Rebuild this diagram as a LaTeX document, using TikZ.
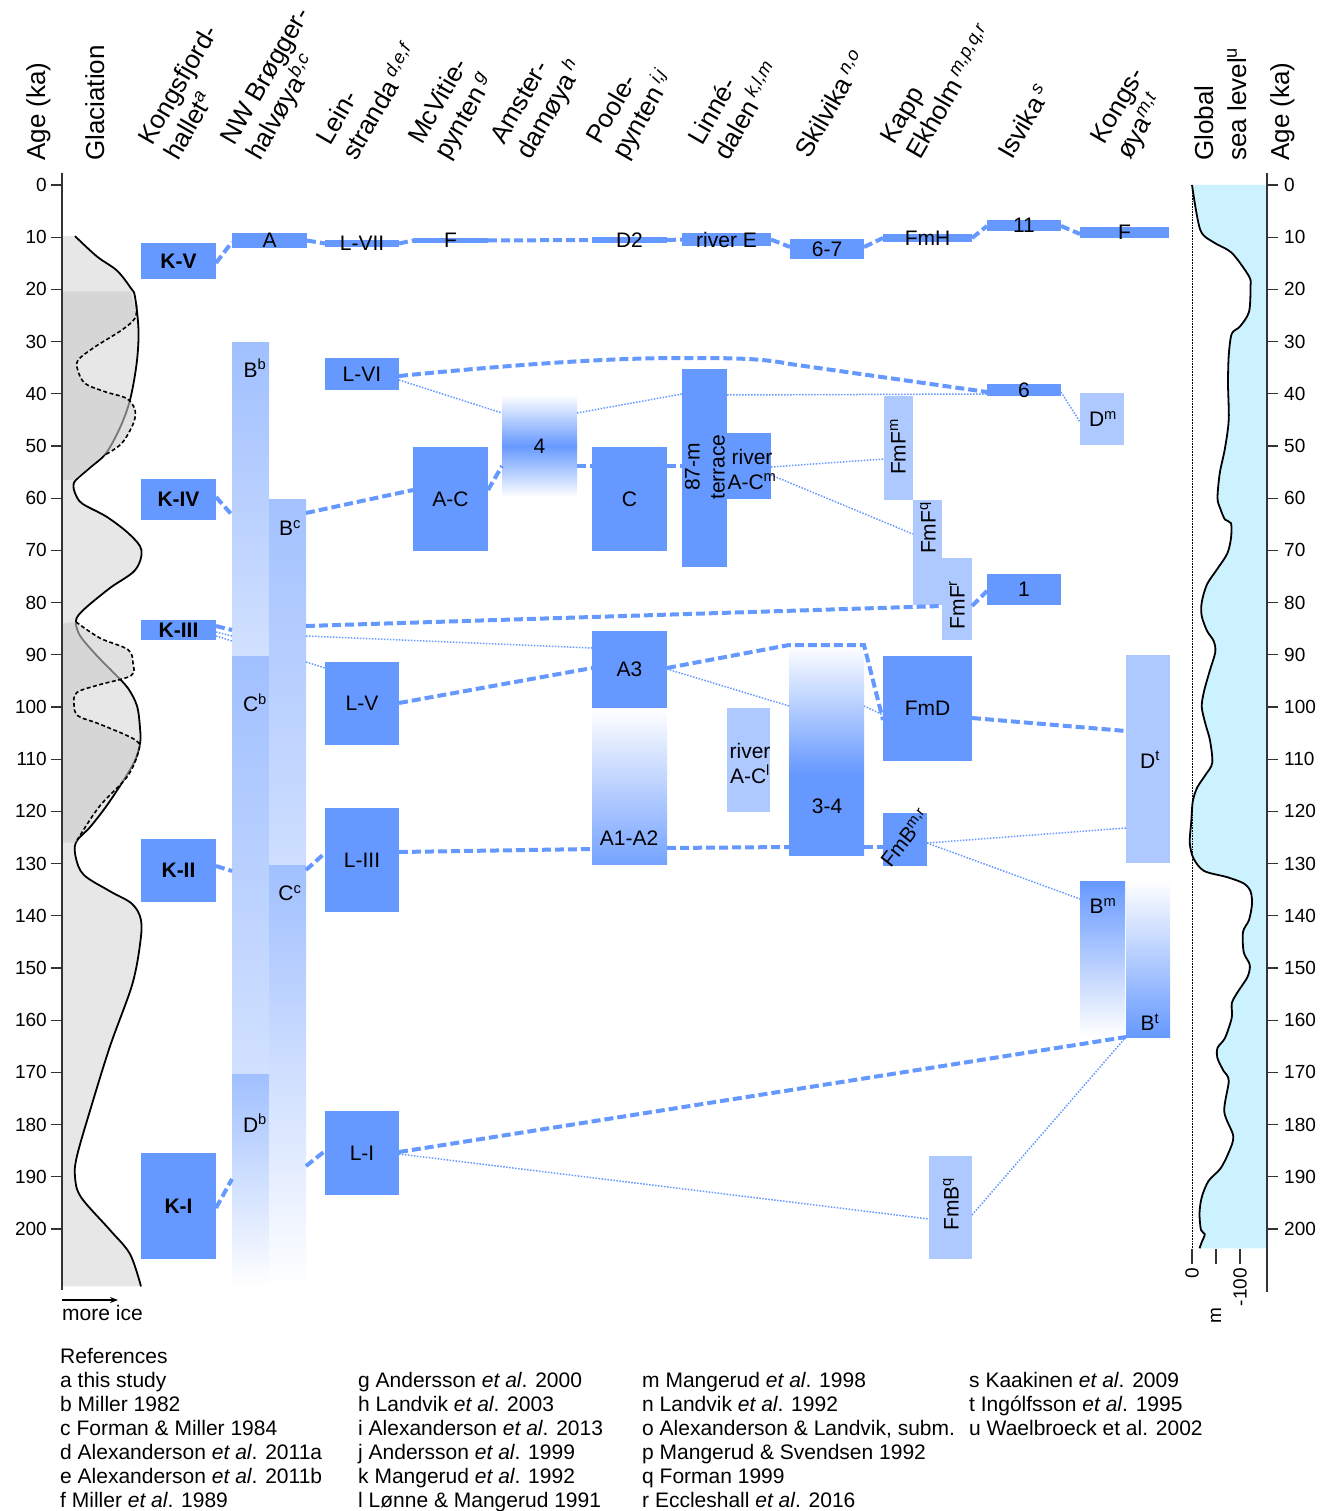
\documentclass[tikz,border=0pt]{standalone}
\usepackage{fontspec}
\setmainfont{Liberation Sans}
\usetikzlibrary{arrows.meta}
\definecolor{mb}{RGB}{102,153,255}
\definecolor{seac}{RGB}{204,242,255}
\definecolor{lg}{RGB}{231,231,231}
\definecolor{dg}{RGB}{203,203,203}
\pgfdeclareverticalshading{skshade}{100bp}{color(0bp)=(mb); color(25bp)=(mb); color(44.5bp)=(mb); color(75bp)=(white); color(100bp)=(white)}
\pgfdeclareverticalshading{fourshade}{100bp}{color(0bp)=(white); color(25bp)=(white); color(50bp)=(mb); color(75bp)=(white); color(100bp)=(white)}
\newcommand{\hdrfont}{\fontsize{26}{30}\selectfont}
\newcommand{\lblfont}{\fontsize{21}{25}\selectfont}
\newcommand{\tkfont}{\fontsize{19}{22}\selectfont}
\newcommand{\bx}[6]{\node[bxb,#6,minimum width={#3-#1},minimum height={#4-#2}] (#5) at ({(#1+#3)/2},{(#2+#4)/2}) {};}
\newcommand{\sps}[1]{\textsuperscript{\itshape #1}}
\tikzset{
  bxb/.style={inner sep=0pt, outer sep=0pt, draw=none},
  dk/.style={fill=mb},
  lt/.style={fill=mb!53},
  lbl/.style={inner sep=1pt, font=\lblfont},
  kl/.style={inner sep=1pt, font=\lblfont\bfseries},
  dsh/.style={draw=mb, line width=4pt, dash pattern=on 9pt off 4pt},
  dtt/.style={draw=mb, line width=1.5pt, dash pattern=on 1.5pt off 1.5pt},
  hdr/.style={rotate=60, anchor=base west, inner sep=0pt, font=\hdrfont},
  vhdr/.style={rotate=90, anchor=base west, inner sep=0pt, font=\hdrfont},
  axisl/.style={draw=black!80, line width=1.6pt},
  tkl/.style={draw=black!80, line width=1.3pt},
  tk/.style={font=\tkfont, inner sep=1pt},
  gcurve/.style={draw=black, line width=1.8pt},
  gdash/.style={draw=black, line width=1.6pt, dash pattern=on 4pt off 2.5pt},
  reft/.style={anchor=base west, inner sep=0pt, font=\lblfont}
}
\begin{document}
\begin{tikzpicture}[x=1pt,y=-1pt]
\useasboundingbox (0,0) rectangle (1332,1511);

% ---------- glaciation panel ----------
\begin{scope}[shift={(0,185)},yscale=5.22]
\fill[lg] (62,9.8) -- plot[smooth,tension=0.55] coordinates {(75,9.8) (97,13.7) (117,16.4) (131,19.8) (135,21.4) (138.5,27.8) (136.7,34.1) (130,41.2) (120,46.5) (106,51.4) (91,54) (76,56.5) (73.5,57.6) (75,59) (82,61) (107,63.6) (130,67) (141.5,70) (135,73.8) (110,77.2) (84,81.3) (76,83.4) (79,86) (89,88.5) (101,91) (114,93.5) (128,96.4) (137,99.8) (140,104) (140,107) (133,111) (110,118) (91,122.8) (76,125.9) (76,129) (84,132.2) (110,135.3) (132,137.7) (141,140.8) (140,145.5) (132,153.3) (110,165) (91,176.7) (77,186) (75,190) (81,193.9) (110,200.2) (130,204.8) (141,211)} -- (62,211) -- cycle;
\draw[gcurve] plot[smooth,tension=0.55] coordinates {(75,9.8) (97,13.7) (117,16.4) (131,19.8) (135,21.4) (138.5,27.8) (136.7,34.1) (130,41.2) (120,46.5) (106,51.4) (91,54) (76,56.5) (73.5,57.6) (75,59) (82,61) (107,63.6) (130,67) (141.5,70) (135,73.8) (110,77.2) (84,81.3) (76,83.4) (79,86) (89,88.5) (101,91) (114,93.5) (128,96.4) (137,99.8) (140,104) (140,107) (133,111) (110,118) (91,122.8) (76,125.9) (76,129) (84,132.2) (110,135.3) (132,137.7) (141,140.8) (140,145.5) (132,153.3) (110,165) (91,176.7) (77,186) (75,190) (81,193.9) (110,200.2) (130,204.8) (141,211)};
\fill[dg, fill opacity=0.59] (62,20.4) -- (130.5,20.4) -- plot[smooth,tension=0.55] coordinates {(133.5,22.5) (135,25.5) (121.7,27.8) (95,31) (78.3,33.5) (77.7,35.4) (85,38) (105,39.6) (126.7,40.9) (135,43.1) (133.3,45.7) (121.7,49.5) (104,51.7) (89.5,54) (74.5,56.5)} -- (62,56.5) -- cycle;
\fill[dg, fill opacity=0.59] (62,84) -- plot[smooth,tension=0.55] coordinates {(76,83.7) (100,86.8) (128,89) (133,91.6) (131,94) (100,95.7) (77,97.2) (74,99.5) (78,101.7) (100,103.3) (136,106.4) (138,108.8) (127,113.4) (100,118.9) (81,124.3) (76,125.9)} -- (62,126) -- cycle;
\draw[gdash] plot[smooth,tension=0.55] coordinates {(136.5,23) (135,25.5) (121.7,27.8) (95,31) (78.3,33.5) (77.7,35.4) (85,38) (105,39.6) (126.7,40.9) (135,43.1) (133.3,45.7) (121.7,49.5) (105,51.7)};
\draw[gdash] plot[smooth,tension=0.55] coordinates {(76,83.7) (100,86.8) (128,89) (133,91.6) (131,94) (100,95.7) (77,97.2) (74,99.5) (78,101.7) (100,103.3) (136,106.4) (138,108.8) (127,113.4) (100,118.9) (81,124.3) (76,125.9)};
\end{scope}
\draw[axisl] (62,173) -- (62,1290);
\foreach \a in {0,10,...,200}{
  \draw[tkl] (51,{185+5.22*\a}) -- (62,{185+5.22*\a});
  \node[tk,anchor=east] (tl\a) at (48,{185+5.22*\a}) {\a};
}
\draw[line width=1.2pt,-{Stealth[length=8pt,width=6pt]}] (62,1300) -- (118,1300);
\node[reft] (moreice) at (62,1320) {more ice};

% ---------- sea level panel ----------
\begin{scope}[shift={(1192,185)},xscale=75,yscale=5.22]
\fill[seac] plot[smooth,tension=0.5] coordinates {(0,0) (0.11,8.6) (0.29,11) (0.53,13) (0.76,17.5) (0.78,19.5) (0.76,24.3) (0.64,27.1) (0.53,28.5) (0.49,32.6) (0.48,38.1) (0.49,44.9) (0.44,50.4) (0.37,55.2) (0.34,60) (0.38,62.1) (0.44,64.1) (0.52,64.8) (0.52,67.6) (0.47,70.6) (0.33,73.7) (0.2,76.5) (0.13,79.9) (0.13,82.6) (0.2,85.4) (0.29,87.4) (0.31,89.5) (0.24,92.9) (0.16,97) (0.13,100) (0.18,103.3) (0.24,106.4) (0.27,110.7) (0.18,113) (0.07,115.4) (0.01,118.1) (-0.01,122) (-0.03,126) (0.02,129) (0.16,131.4) (0.47,132.6) (0.69,133.8) (0.78,135.3) (0.8,137.7) (0.76,140.8) (0.68,143.1) (0.69,147) (0.77,149.4) (0.74,151.7) (0.6,154.8) (0.53,156.8) (0.53,159.5) (0.44,163.4) (0.34,165.3) (0.34,167.3) (0.42,169.7) (0.49,171.6) (0.43,177.5) (0.55,182.2) (0.49,185.3) (0.38,188.4) (0.22,190.8) (0.13,193.9) (0.1,197) (0.12,200.2) (0.17,201) (0.13,202.5) (0.1,203.7)} -- (1,203.7) -- (1,0) -- cycle;
\draw[line width=1.8pt] plot[smooth,tension=0.5] coordinates {(0,0) (0.11,8.6) (0.29,11) (0.53,13) (0.76,17.5) (0.78,19.5) (0.76,24.3) (0.64,27.1) (0.53,28.5) (0.49,32.6) (0.48,38.1) (0.49,44.9) (0.44,50.4) (0.37,55.2) (0.34,60) (0.38,62.1) (0.44,64.1) (0.52,64.8) (0.52,67.6) (0.47,70.6) (0.33,73.7) (0.2,76.5) (0.13,79.9) (0.13,82.6) (0.2,85.4) (0.29,87.4) (0.31,89.5) (0.24,92.9) (0.16,97) (0.13,100) (0.18,103.3) (0.24,106.4) (0.27,110.7) (0.18,113) (0.07,115.4) (0.01,118.1) (-0.01,122) (-0.03,126) (0.02,129) (0.16,131.4) (0.47,132.6) (0.69,133.8) (0.78,135.3) (0.8,137.7) (0.76,140.8) (0.68,143.1) (0.69,147) (0.77,149.4) (0.74,151.7) (0.6,154.8) (0.53,156.8) (0.53,159.5) (0.44,163.4) (0.34,165.3) (0.34,167.3) (0.42,169.7) (0.49,171.6) (0.43,177.5) (0.55,182.2) (0.49,185.3) (0.38,188.4) (0.22,190.8) (0.13,193.9) (0.1,197) (0.12,200.2) (0.17,201) (0.13,202.5) (0.1,203.7)};
\end{scope}
\draw[line width=0.8pt, dash pattern=on 0.8pt off 0.8pt] (1192,185) -- (1192,1249);
\draw[axisl] (1267,173) -- (1267,1292);
\foreach \a in {0,10,...,200}{
  \draw[tkl] (1267,{185+5.22*\a}) -- (1278,{185+5.22*\a});
  \node[tk,anchor=west] (tr\a) at (1283,{185+5.22*\a}) {\a};
}
\foreach \xx in {1192,1216,1240}{ \draw[tkl] (\xx,1249) -- (\xx,1264); }
\node[tk,rotate=90,anchor=east] (sl0) at (1192,1267) {0};
\node[tk,rotate=90,anchor=east] (sl100) at (1240,1267) {-100};
\node[tk,rotate=90] (slm) at (1216,1316) {m};

% ---------- headers ----------
\node[vhdr] (hAgeL) at (45,161) {Age (ka)};
\node[vhdr] (hGlac) at (104,161) {Glaciation};
\node[hdr] (h1a) at (152,147) {Kongsfjord-};
\node[hdr] (h1b) at (178,162) {hallet\sps{a}};
\node[hdr] (h2a) at (234,147) {NW Brøgger-};
\node[hdr] (h2b) at (260,162) {halvøya\sps{b,c}};
\node[hdr] (h3a) at (330,147) {Lein-};
\node[hdr] (h3b) at (356,162) {stranda\,\sps{d,e,f}};
\node[hdr] (h4a) at (422,146) {McVitie-};
\node[hdr] (h4b) at (448,161) {pynten\,\sps{g}};
\node[hdr] (h5a) at (504,146) {Amster-};
\node[hdr] (h5b) at (530,161) {damøya\,\sps{h}};
\node[hdr] (h6a) at (600,146) {Poole-};
\node[hdr] (h6b) at (626,161) {pynten\,\sps{i,j}};
\node[hdr] (h7a) at (702,147) {Linné-};
\node[hdr] (h7b) at (728,162) {dalen\,\sps{k,l,m}};
\node[hdr] (h8) at (809,160) {Skilvika\,\sps{n,o}};
\node[hdr] (h9a) at (894,146) {Kapp};
\node[hdr] (h9b) at (920,161) {Ekholm\,\sps{m,p,q,r}};
\node[hdr] (h10) at (1012,161) {Isvika\,\sps{s}};
\node[hdr] (h11a) at (1104,146) {Kongs-};
\node[hdr] (h11b) at (1130,161) {øya\sps{m,t}};
\node[vhdr] (hGlob) at (1213,161) {Global};
\node[vhdr] (hSea) at (1246,161) {sea level\textsuperscript{u}};
\node[vhdr] (hAgeR) at (1289,161) {Age (ka)};

% ---------- boxes ----------
\bx{141}{243}{216}{279}{KV}{dk}
\bx{141}{479}{216}{520}{KIV}{dk}
\bx{141}{620}{216}{640}{KIII}{dk}
\bx{141}{839}{216}{902}{KII}{dk}
\bx{141}{1153}{216}{1259}{KI}{dk}
\bx{232}{342}{269}{656}{Bb}{top color=mb!62, bottom color=mb!30}
\bx{232}{656}{269}{1074}{Cb}{top color=mb!62, bottom color=mb!30}
\bx{232}{1074}{269}{1288}{Db}{top color=mb!62, bottom color=white}
\bx{269}{499}{306}{865}{Bc}{top color=mb!60, bottom color=mb!32}
\bx{269}{865}{306}{1288}{Cc}{top color=mb!62, bottom color=white}
\bx{232}{233}{307}{248}{A}{dk}
\bx{325}{240}{399}{247}{LVII}{dk}
\bx{325}{358}{399}{390}{LVI}{dk}
\bx{325}{662}{399}{745}{LV}{dk}
\bx{325}{808}{399}{912}{LIII}{dk}
\bx{325}{1111}{399}{1195}{LI}{dk}
\bx{413}{238}{488}{243}{McF}{dk}
\bx{413}{447}{488}{551}{AC}{dk}
\bx{502}{395}{577}{497}{A4}{shade, shading=fourshade}
\bx{592}{237}{667}{243}{D2}{dk}
\bx{592}{447}{667}{551}{PC}{dk}
\bx{592}{631}{667}{708}{A3}{dk}
\bx{592}{708}{667}{864}{A12}{top color=white, bottom color=mb!90}
\bx{682}{233}{771}{246}{rivE}{dk}
\bx{682}{369}{727}{567}{T87}{dk}
\bx{727}{433}{771}{499}{rACm}{dk}
\bx{727}{708}{770}{812}{rACl}{lt}
\bx{790}{239}{864}{259}{S67}{dk}
\bx{789}{645}{864}{855}{S34}{shade, shading=skshade}
\bx{883}{234}{972}{242}{FmH}{dk}
\bx{884}{396}{913}{500}{FmFm}{lt}
\bx{913}{500}{942}{605}{FmFq}{lt}
\bx{942}{558}{972}{640}{FmFr}{lt}
\bx{883}{656}{972}{761}{FmD}{dk}
\bx{883}{813}{927}{866}{FmBmr}{dk}
\bx{929}{1156}{972}{1259}{FmBq}{lt}
\bx{987}{220}{1061}{231}{I11}{dk}
\bx{987}{384}{1061}{396}{I6}{dk}
\bx{987}{574}{1061}{605}{I1}{dk}
\bx{1080}{227}{1169}{238}{KF}{dk}
\bx{1080}{393}{1124}{445}{Dm}{lt}
\bx{1126}{655}{1170}{863}{Dt}{lt}
\bx{1080}{881}{1125}{1036}{Bm}{top color=mb, bottom color=white}
\bx{1126}{881}{1170}{1037}{Bt}{top color=white, bottom color=mb}

% ---------- connectors: dashed ----------
\draw[dsh] (KV.east |- 0,263) -- (A.west |- 0,242);
\draw[dsh] (A.east) -- (LVII.west);
\draw[dsh] (LVII.east) -- (McF.west);
\draw[dsh] (McF.east) -- (D2.west);
\draw[dsh] (D2.east) -- (rivE.west);
\draw[dsh] (rivE.east) -- (S67.west |- 0,247);
\draw[dsh] (S67.east |- 0,247) -- (FmH.west);
\draw[dsh] (FmH.east) -- (I11.west |- 0,226);
\draw[dsh] (I11.east |- 0,226) -- (KF.west |- 0,234);
\draw[dsh] (KIV.east |- 0,497) -- (Bb.west |- 0,515);
\draw[dsh] (Bc.east |- 0,513) -- (AC.west |- 0,490);
\draw[dsh] (AC.east |- 0,490) -- (A4.west |- 0,466);
\draw[dsh] (A4.east |- 0,466) -- (PC.west |- 0,466);
\draw[dsh] (PC.east |- 0,466) -- (T87.west |- 0,466);
\draw[dsh] (LVI.east |- 0,376) .. controls (500,366) and (600,358) .. (680,358) .. controls (730,358) and (760,358) .. (790,364) -- (I6.west |- 0,392);
\draw[dsh] (KIII.east |- 0,626) -- (Bb.west |- 0,630);
\draw[dsh] (Bc.east |- 0,626) -- (FmFr.west |- 0,606);
\draw[dsh] (FmFr.east |- 0,606) -- (I1.west |- 0,591);
\draw[dsh] (LV.east |- 0,703) -- (A3.west |- 0,668);
\draw[dsh] (A3.east |- 0,668) -- (S34.north west) -- (S34.north east) -- (FmD.west |- 0,720);
\draw[dsh] (FmD.east |- 0,718) -- (Dt.west |- 0,731);
\draw[dsh] (KII.east |- 0,866) -- (Cb.west |- 0,871);
\draw[dsh] (Cc.east |- 0,870) -- (LIII.west |- 0,853);
\draw[dsh] (LIII.east |- 0,852) -- (A12.west |- 0,849);
\draw[dsh] (A12.east |- 0,848) -- (S34.west |- 0,847);
\draw[dsh] (S34.east |- 0,847) -- (FmBmr.west |- 0,847);
\draw[dsh] (KI.east |- 0,1208) -- (Db.west |- 0,1179);
\draw[dsh] (Cc.east |- 0,1166) -- (LI.west |- 0,1151);
\draw[dsh] (LI.east |- 0,1152) -- (Bt.south west);

% ---------- connectors: dotted ----------
\draw[dtt] (LVI.east |- 0,380) -- (A4.west |- 0,413);
\draw[dtt] (A4.east |- 0,413) -- (T87.west |- 0,394);
\draw[dtt] (T87.east |- 0,395) -- (I6.west |- 0,394);
\draw[dtt] (rACm.east |- 0,467) -- (FmFm.west |- 0,459);
\draw[dtt] (rACm.east |- 0,475) -- (FmFq.west |- 0,534);
\draw[dtt] (I6.east |- 0,392) -- (Dm.west |- 0,422);
\draw[dtt] (KIII.east |- 0,632) -- (Bb.west |- 0,636);
\draw[dtt] (KIII.east |- 0,636) -- (Bb.west |- 0,641);
\draw[dtt] (Bc.east |- 0,636) -- (A3.west |- 0,648);
\draw[dtt] (Bc.east |- 0,662) -- (LV.west |- 0,668);
\draw[dtt] (A3.east |- 0,669) -- (S34.west |- 0,706);
\draw[dtt] (S34.east |- 0,706) -- (FmD.west |- 0,715);
\draw[dtt] (FmBmr.east |- 0,843) -- (Dt.west |- 0,828);
\draw[dtt] (FmBmr.east |- 0,843) -- (Bm.west |- 0,899);
\draw[dtt] (LI.east |- 0,1154) -- (FmBq.west |- 0,1219);
\draw[dtt] (FmBq.east |- 0,1215) -- (Bt.south west);

% ---------- labels ----------
\node[kl] (KVl) at (KV) {K-V};
\node[kl] (KIVl) at (KIV) {K-IV};
\node[kl] (KIIIl) at (KIII) {K-III};
\node[kl] (KIIl) at (KII) {K-II};
\node[kl] (KIl) at (KI) {K-I};
\node[lbl] (Bbl) at (255,368) {B\textsuperscript{b}};
\node[lbl] (Cbl) at (255,703) {C\textsuperscript{b}};
\node[lbl] (Dbl) at (255,1123) {D\textsuperscript{b}};
\node[lbl] (Bcl) at (290,528) {B\textsuperscript{c}};
\node[lbl] (Ccl) at (290,893) {C\textsuperscript{c}};
\node[lbl] (Al) at (A) {A};
\node[lbl] (LVIIl) at (LVII) {L-VII};
\node[lbl] (LVIl) at (LVI) {L-VI};
\node[lbl] (LVl) at (LV) {L-V};
\node[lbl] (LIIIl) at (LIII) {L-III};
\node[lbl] (LIl) at (LI) {L-I};
\node[lbl] (McFl) at (McF) {F};
\node[lbl] (ACl) at (AC) {A-C};
\node[lbl] (A4l) at (A4) {4};
\node[lbl] (D2l) at (D2) {D2};
\node[lbl] (PCl) at (PC) {C};
\node[lbl] (A3l) at (A3) {A3};
\node[lbl] (A12l) at (629,838) {A1-A2};
\node[lbl] (rivEl) at (rivE) {river E};
\node[lbl,rotate=90,align=center] (T87l) at (705,467) {87-m\\terrace};
\node[lbl,align=center] (rACml) at (752,469) {river\\A-C\textsuperscript{m}};
\node[lbl,align=center] (rACll) at (750,763) {river\\A-C\textsuperscript{l}};
\node[lbl] (S67l) at (S67) {6-7};
\node[lbl] (S34l) at (827,806) {3-4};
\node[lbl] (FmHl) at (FmH) {FmH};
\node[lbl,rotate=90] (FmFml) at (898,447) {FmF\textsuperscript{m}};
\node[lbl,rotate=90] (FmFql) at (928,528) {FmF\textsuperscript{q}};
\node[lbl,rotate=90] (FmFrl) at (957,605) {FmF\textsuperscript{r}};
\node[lbl] (FmDl) at (FmD) {FmD};
\node[lbl,rotate=52] (FmBmrl) at (905,838) {FmB\textsuperscript{m,r}};
\node[lbl,rotate=90] (FmBql) at (951,1204) {FmB\textsuperscript{q}};
\node[lbl] (I11l) at (I11) {11};
\node[lbl] (I6l) at (I6) {6};
\node[lbl] (I1l) at (I1) {1};
\node[lbl] (KFl) at (KF) {F};
\node[lbl] (Dml) at (1103,419) {D\textsuperscript{m}};
\node[lbl] (Dtl) at (1150,760) {D\textsuperscript{t}};
\node[lbl] (Bml) at (1103,906) {B\textsuperscript{m}};
\node[lbl] (Btl) at (1150,1022) {B\textsuperscript{t}};

% ---------- references ----------
\node[reft] (refh) at (60,1363) {References};
\foreach \t [count=\i] in {a this study, b Miller 1982, {c Forman \& Miller 1984}, {d Alexanderson \textit{et al}. 2011a}, {e Alexanderson \textit{et al}. 2011b}, {f Miller \textit{et al}. 1989}}{
  \node[reft] (ra\i) at (60,{1363+24*\i}) {\t};
}
\foreach \t [count=\i] in {{g Andersson \textit{et al}. 2000}, {h Landvik \textit{et al}. 2003}, {i Alexanderson \textit{et al}. 2013}, {j Andersson \textit{et al}. 1999}, {k Mangerud \textit{et al}. 1992}, {l Lønne \& Mangerud 1991}}{
  \node[reft] (rb\i) at (358,{1363+24*\i}) {\t};
}
\foreach \t [count=\i] in {{m Mangerud \textit{et al}. 1998}, {n Landvik \textit{et al}. 1992}, {o Alexanderson \& Landvik, subm.}, {p Mangerud \& Svendsen 1992}, {q Forman 1999}, {r Eccleshall \textit{et al}. 2016}}{
  \node[reft] (rc\i) at (642,{1363+24*\i}) {\t};
}
\foreach \t [count=\i] in {{s Kaakinen \textit{et al}. 2009}, {t Ingólfsson \textit{et al}. 1995}, {u Waelbroeck et al. 2002}}{
  \node[reft] (rd\i) at (969,{1363+24*\i}) {\t};
}
\end{tikzpicture}
\end{document}
